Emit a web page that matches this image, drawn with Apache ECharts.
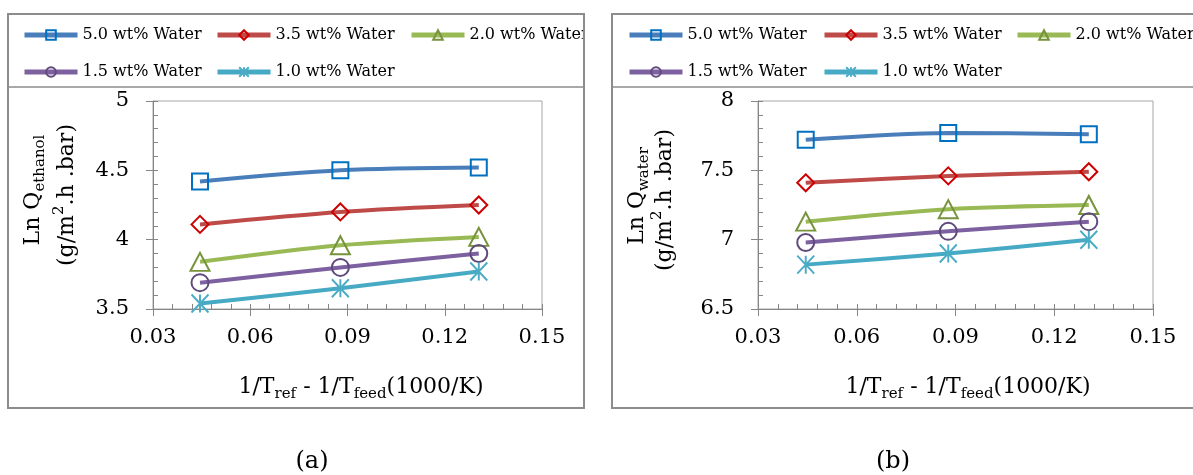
<!DOCTYPE html>
<html><head><meta charset="utf-8">
<script src="https://cdn.jsdelivr.net/npm/echarts@6/dist/echarts.min.js"></script>
<style>html,body{margin:0;padding:0;background:#fff}#c{width:1193px;height:475px}</style>
</head><body><div id="c"></div>
<script>
// ---- data ----
const xValues = [0.0445, 0.0878, 0.1305];
const seriesNames = ['5.0 wt% Water', '3.5 wt% Water', '2.0 wt% Water', '1.5 wt% Water', '1.0 wt% Water'];
const ethanol50 = [4.42, 4.50, 4.52];
const ethanol35 = [4.11, 4.20, 4.25];
const ethanol20 = [3.84, 3.96, 4.02];
const ethanol15 = [3.69, 3.80, 3.90];
const ethanol10 = [3.54, 3.65, 3.77];
const water50 = [7.72, 7.77, 7.76];
const water35 = [7.41, 7.46, 7.49];
const water20 = [7.13, 7.22, 7.25];
const water15 = [6.98, 7.06, 7.13];
const water10 = [6.82, 6.90, 7.00];
const xTicks = [0.03, 0.06, 0.09, 0.12, 0.15];
const yTicksA = [3.5, 4, 4.5, 5];
const yTicksB = [6.5, 7, 7.5, 8];

// ---- styles ----
const F = 'DejaVu Serif';
const ASTER = 'path://M10,0L10,20M0,0L20,20M0,20L20,0';
const styles = [
  {line: '#4a7ebb', mark: '#0070c0', symbol: 'rect', size: 16},
  {line: '#be4b48', mark: '#cc0000', symbol: 'diamond', size: [17, 17]},
  {line: '#98b954', mark: '#77933c', symbol: 'triangle', size: [19, 18]},
  {line: '#7d60a0', mark: '#604a7b', symbol: 'circle', size: 17},
  {line: '#46aac5', mark: '#4bacc6', symbol: ASTER, size: [17, 18]}
];

function mkSeries(name, vals, idx, st) {
  return {
    type: 'line', name: name, xAxisIndex: idx, yAxisIndex: idx,
    data: xValues.map((x, i) => [x, vals[i]]),
    smooth: 0.3, clip: false, animation: false,
    symbol: st.symbol, symbolSize: st.size, showAllSymbol: true,
    lineStyle: {color: st.line, width: 4},
    itemStyle: {color: 'rgba(255,255,255,0)', borderColor: st.mark, borderWidth: 2},
    emphasis: {disabled: true}, z: 3
  };
}
const ethSets = [ethanol50, ethanol35, ethanol20, ethanol15, ethanol10];
const watSets = [water50, water35, water20, water15, water10];
const series = [];
ethSets.forEach((d, i) => series.push(mkSeries(seriesNames[i], d, 0, styles[i])));
watSets.forEach((d, i) => series.push(mkSeries(seriesNames[i], d, 1, styles[i])));

const AX = '#868686';
function mainX(grid) {
  return {
    type: 'value', gridIndex: grid, position: 'bottom',
    min: xTicks[0], max: xTicks[xTicks.length - 1], interval: xTicks[1] - xTicks[0],
    axisLine: {show: true, onZero: false, lineStyle: {color: AX, width: 1}},
    axisTick: {show: true, inside: false, length: 7, lineStyle: {color: AX}},
    axisLabel: {show: true, margin: 18, fontFamily: F, fontSize: 21, color: '#000',
      formatter: v => v.toFixed(2)},
    splitLine: {show: false}
  };
}
function overX(grid) {
  return {
    type: 'value', gridIndex: grid, position: 'bottom',
    min: xTicks[0], max: xTicks[xTicks.length - 1], interval: xTicks[1] - xTicks[0],
    axisLine: {show: false, onZero: false},
    axisTick: {show: true, inside: true, length: 5, lineStyle: {color: AX}},
    minorTick: {show: true, splitNumber: 5, length: 5, lineStyle: {color: AX}},
    axisLabel: {show: false}, splitLine: {show: false}
  };
}
function mainY(grid, ticks) {
  return {
    type: 'value', gridIndex: grid, position: 'left',
    min: ticks[0], max: ticks[ticks.length - 1], interval: ticks[1] - ticks[0],
    axisLine: {show: true, onZero: false, lineStyle: {color: AX, width: 1}},
    axisTick: {show: true, inside: false, length: 7, lineStyle: {color: AX}},
    axisLabel: {show: true, margin: 24, fontFamily: F, fontSize: 21, color: '#000'},
    splitLine: {show: false}
  };
}
function overY(grid, ticks) {
  return {
    type: 'value', gridIndex: grid, position: 'left',
    min: ticks[0], max: ticks[ticks.length - 1], interval: ticks[1] - ticks[0],
    axisLine: {show: false, onZero: false},
    axisTick: {show: true, inside: true, length: 5, lineStyle: {color: AX}},
    minorTick: {show: true, splitNumber: 5, length: 5, lineStyle: {color: AX}},
    axisLabel: {show: false}, splitLine: {show: false}
  };
}

function legend(name, left, top) {
  return {
    data: [name], left: left, top: top, orient: 'horizontal', padding: 0,
    itemWidth: 53, itemHeight: 12, selectedMode: false,
    lineStyle: {width: 5},
    textStyle: {fontFamily: F, fontSize: 16, color: '#000'}
  };
}
const colA = [22, 215, 409];
const colB = [627, 822, 1015];
const rowTop = [27, 64];
const legends = [];
seriesNames.forEach((n, i) => {
  const r = i < 3 ? 0 : 1, c = i < 3 ? i : i - 3;
  legends.push(legend(n, colA[c], rowTop[r]));
  legends.push(legend(n, colB[c], rowTop[r]));
});

const rich = {
  m: {fontFamily: F, fontSize: 22, lineHeight: 30, color: '#000'},
  s: {fontFamily: F, fontSize: 15, lineHeight: 15, verticalAlign: 'bottom', color: '#000'},
  p: {fontFamily: F, fontSize: 15, lineHeight: 20, verticalAlign: 'top', color: '#000'}
};
function txt(x, y, text, rot) {
  return {
    type: 'text', x: x, y: y, rotation: rot || 0, z: 100,
    style: {text: text, rich: rich, align: 'center', verticalAlign: 'middle',
      fontFamily: F, fontSize: 22, fill: '#000'}
  };
}
const FR = '#8c8c8c';
const graphic = [
  {type: 'rect', z: 99, shape: {x: 585, y: 8, width: 26, height: 85}, style: {fill: '#fff'}},
  {type: 'rect', z: 100, shape: {x: 8, y: 14, width: 576, height: 394}, style: {fill: 'none', stroke: FR, lineWidth: 2}},
  {type: 'rect', z: 100, shape: {x: 612, y: 14, width: 600, height: 394}, style: {fill: 'none', stroke: FR, lineWidth: 2}},
  {type: 'line', z: 100, shape: {x1: 8, y1: 87, x2: 584, y2: 87}, style: {stroke: FR, lineWidth: 1.5}},
  {type: 'line', z: 100, shape: {x1: 612, y1: 87, x2: 1193, y2: 87}, style: {stroke: FR, lineWidth: 1.5}},
  txt(33, 190, '{m|Ln Q}{s|ethanol}', Math.PI / 2),
  txt(67, 195, '{m|(g/m}{p|2}{m|.h .bar)}', Math.PI / 2),
  txt(637, 196, '{m|Ln Q}{s|water}', Math.PI / 2),
  txt(665, 200, '{m|(g/m}{p|2}{m|.h .bar)}', Math.PI / 2),
  txt(361, 387, '{m|1/T}{s|ref}{m| - 1/T}{s|feed}{m|(1000/K)}'),
  txt(968, 387, '{m|1/T}{s|ref}{m| - 1/T}{s|feed}{m|(1000/K)}'),
  {type: 'text', x: 312, y: 462, z: 100, style: {text: '(a)', fontFamily: F, fontSize: 24, fill: '#000', align: 'center', verticalAlign: 'middle'}},
  {type: 'text', x: 893, y: 462, z: 100, style: {text: '(b)', fontFamily: F, fontSize: 24, fill: '#000', align: 'center', verticalAlign: 'middle'}}
];

const chart = echarts.init(document.getElementById('c'), null, {renderer: 'canvas'});
chart.setOption({
  animation: false,
  backgroundColor: '#fff',
  grid: [
    {left: 153, top: 101, width: 389, height: 208, show: true, borderColor: '#a6a6a6', borderWidth: 1, backgroundColor: 'transparent'},
    {left: 758, top: 101, width: 395, height: 208, show: true, borderColor: '#a6a6a6', borderWidth: 1, backgroundColor: 'transparent'}
  ],
  xAxis: [mainX(0), mainX(1), overX(0), overX(1)],
  yAxis: [mainY(0, yTicksA), mainY(1, yTicksB), overY(0, yTicksA), overY(1, yTicksB)],
  legend: legends,
  tooltip: {show: false},
  graphic: graphic,
  series: series
});
</script></body></html>
